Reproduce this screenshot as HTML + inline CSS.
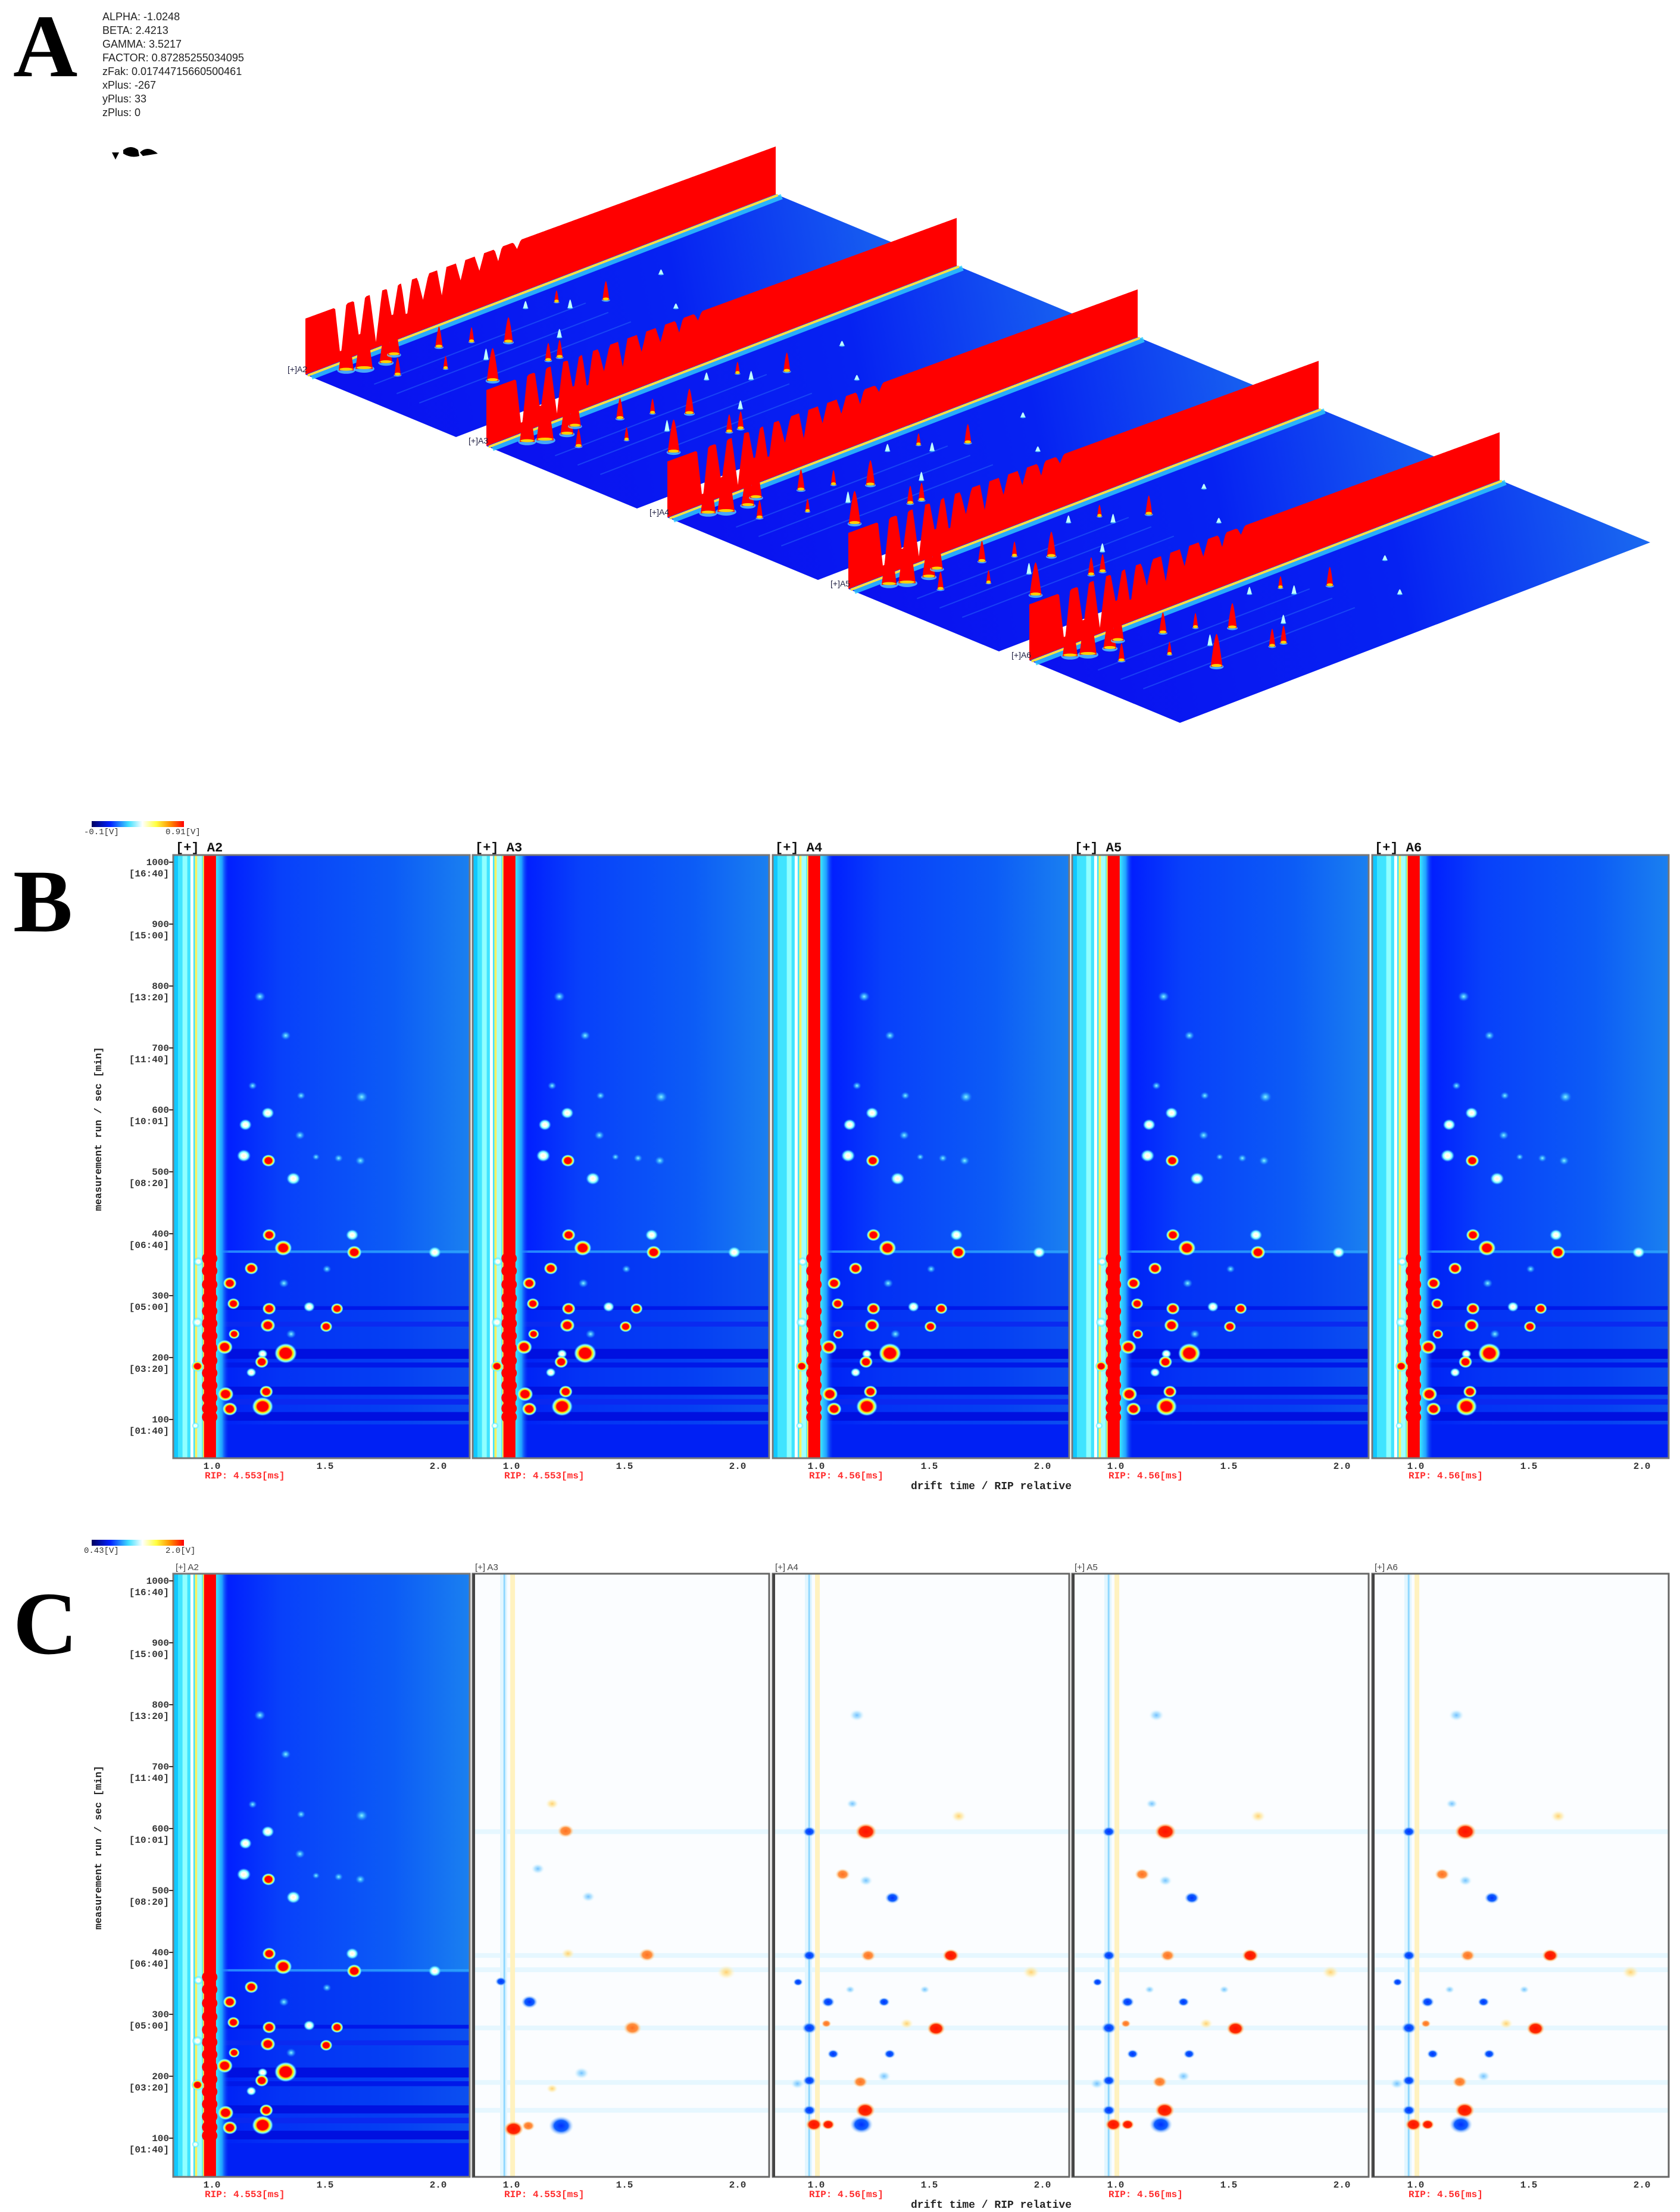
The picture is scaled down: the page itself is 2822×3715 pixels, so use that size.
<!DOCTYPE html>
<html><head><meta charset="utf-8">
<style>
html,body{margin:0;padding:0;background:#fff;}
svg{display:block;}
</style></head>
<body>
<svg id="fig" xmlns="http://www.w3.org/2000/svg" width="2822" height="3715" viewBox="0 0 2822 3715" font-family="Liberation Mono, monospace">
<defs>
 <radialGradient id="gHot"><stop offset="0" stop-color="#ff0000"/><stop offset="0.5" stop-color="#ff0000"/><stop offset="0.65" stop-color="#ffee00"/><stop offset="0.82" stop-color="#80ffff"/><stop offset="1" stop-color="#40c0ff" stop-opacity="0"/></radialGradient>
 <radialGradient id="gWhite"><stop offset="0" stop-color="#ffffd0"/><stop offset="0.35" stop-color="#ffffff"/><stop offset="0.65" stop-color="#80ffff"/><stop offset="1" stop-color="#40c0ff" stop-opacity="0"/></radialGradient>
 <radialGradient id="gCyan"><stop offset="0" stop-color="#90f8ff"/><stop offset="0.5" stop-color="#40c8ff" stop-opacity="0.6"/><stop offset="1" stop-color="#2080ff" stop-opacity="0"/></radialGradient>
 <radialGradient id="cRed"><stop offset="0" stop-color="#ff1000"/><stop offset="0.6" stop-color="#ff2a00"/><stop offset="0.8" stop-color="#ffb060" stop-opacity="0.6"/><stop offset="1" stop-color="#fff0c0" stop-opacity="0"/></radialGradient>
 <radialGradient id="cOrange"><stop offset="0" stop-color="#ff7020"/><stop offset="0.55" stop-color="#ff9040"/><stop offset="1" stop-color="#fff0c0" stop-opacity="0"/></radialGradient>
 <radialGradient id="cBlue"><stop offset="0" stop-color="#0030ff"/><stop offset="0.55" stop-color="#1060ff"/><stop offset="1" stop-color="#c0e8ff" stop-opacity="0"/></radialGradient>
 <radialGradient id="cLblue"><stop offset="0" stop-color="#70c0ff"/><stop offset="0.5" stop-color="#a0dcff" stop-opacity="0.7"/><stop offset="1" stop-color="#e0f6ff" stop-opacity="0"/></radialGradient>
 <radialGradient id="cYellow"><stop offset="0" stop-color="#ffd070"/><stop offset="0.5" stop-color="#ffe8a0" stop-opacity="0.7"/><stop offset="1" stop-color="#fff8e0" stop-opacity="0"/></radialGradient>
 <linearGradient id="cbar" x1="0" x2="1" y1="0" y2="0"><stop offset="0" stop-color="#000060"/><stop offset="0.2" stop-color="#0020ff"/><stop offset="0.4" stop-color="#40e0ff"/><stop offset="0.55" stop-color="#ffffff"/><stop offset="0.7" stop-color="#ffff40"/><stop offset="0.85" stop-color="#ff9000"/><stop offset="1" stop-color="#ff0000"/></linearGradient>
 <linearGradient id="rightFade" x1="0" x2="1" y1="0" y2="0"><stop offset="0" stop-color="#40f0ff"/><stop offset="0.5" stop-color="#20a0ff"/><stop offset="1" stop-color="#0a30f8" stop-opacity="0"/></linearGradient>
</defs>
<g id="panelA"></g>
<g id="panelB"></g>
<g id="panelC"></g>
</svg>
<script>
// ---------- data ----------
const sampleNames = ["A2","A3","A4","A5","A6"];
const ripValues = ["4.553","4.553","4.56","4.56","4.56"];
const yTicks = [1000,900,800,700,600,500,400,300,200,100];
const yTickMin = ["[16:40]","[15:00]","[13:20]","[11:40]","[10:01]","[08:20]","[06:40]","[05:00]","[03:20]","[01:40]"];
const xTicks = [1.0,1.5,2.0];
const xTickLabels = ["1.0","1.5","2.0"];
const paramLines = ["ALPHA: -1.0248","BETA: 2.4213","GAMMA: 3.5217","FACTOR: 0.87285255034095","zFak: 0.01744715660500461","xPlus: -267","yPlus: 33","zPlus: 0"];

const bD = [1.212,1.326,1.18,1.662,1.394,1.247,1.148,1.389,1.141,1.25,1.656,1.56,1.46,1.36,1.253,1.62,1.315,1.629,1.985,0.94,1.174,1.508,1.079,1.318,1.095,1.253,1.43,1.553,0.936,1.247,1.505,1.098,1.35,1.056,1.326,1.224,1.22,0.936,1.174,1.06,1.24,1.079,1.224,0.927];
const bV = [783,720,639,621,623,595,576,559,526,518,518,522,524,489,398,398,377,370,370,355,344,343,320,320,287,279,282,279,257,252,250,238,238,217,207,206,193,186,176,141,145,117,121,90];
const bK = [2,2,2,2,2,1,1,2,1,0,2,2,2,1,0,1,0,0,1,1,0,2,0,2,0,0,1,0,1,0,0,0,2,0,0,1,0,0,1,0,0,0,0,1];
const bR = [9,8,7,10,7,10,10,8,11,11,8,7,6,11,11,10,14,12,10,8,11,7,11,8,10,11,9,10,9,12,10,9,8,13,18,8,11,10,8,13,11,12,17,6];

const cD = [1.22,0.97,1.117,1.22,1.337,1.595,1.23,0.97,0.92,1.053,1.30,1.15,1.48,1.53,1.045,1.40,0.97,1.075,1.325,1.195,0.917,0.97,1.30,1.217,0.97,0.99,1.053,1.20,1.18,1.16,1.63,1.95];
const cV = [595,595,526,516,488,395,395,395,352,320,320,340,340,277,285,285,278,236,236,191,188,193,200,145,145,122,122,122,783,640,620,368];
const cK = [0,2,1,3,2,0,1,2,2,2,2,3,3,0,1,4,2,2,2,1,3,2,3,0,2,0,0,2,3,3,4,4];
const cR = [13,8,9,8,9,10,9,8,6,8,7,6,6,11,6,8,9,7,7,9,8,8,8,12,8,10,8,14,9,7,9,10];
const cDA3 = [1.24,1.18,1.117,1.34,1.6,1.95,1.08,0.954,1.535,1.31,1.01,1.22,1.075,1.18,1.25];
const cVA3 = [596,640,535,490,396,368,320,353,278,205,115,120,120,180,398];
const cKA3 = [1,4,3,3,1,4,2,2,1,3,0,2,1,4,4];
const cRA3 = [10,8,8,8,10,11,10,7,11,9,12,15,8,7,8];

const pkT = [0.056,0.08,0.12,0.15,0.19,0.22,0.27,0.31,0.305,0.326,0.47,0.47,0.53,0.586,0.10,0.17,0.24,0.38,0.42,0.66];
const pkS = [0.096,0.14,0.16,0.12,0.65,0.2,0.26,0.38,0.66,0.67,0.2,0.29,0.34,0.63,0.3,0.4,0.45,0.5,0.15,0.3];
const pkH = [70,80,60,55,55,35,25,42,30,30,20,14,32,8,30,22,18,14,12,8];
const dipT = [0.075,0.115,0.15,0.185,0.215,0.25,0.29,0.33,0.37,0.41,0.45];
const dipDepth = [0.95,0.75,0.9,0.6,0.7,0.45,0.5,0.35,0.3,0.25,0.15];
const dipWidth = [0.012,0.012,0.013,0.012,0.011,0.012,0.01,0.01,0.01,0.008,0.008];

const NS="http://www.w3.org/2000/svg";
function mk(tag,attrs,parent){const e=document.createElementNS(NS,tag);for(const k in attrs)e.setAttribute(k,attrs[k]);if(parent)parent.appendChild(e);return e;}
function txt(parent,x,y,s,attrs){const t=mk("text",Object.assign({x:x,y:y},attrs||{}),parent);t.textContent=s;return t;}
const SERIF="Liberation Serif, serif", SANS="Liberation Sans, sans-serif";

// ---------- Panel A ----------
const gA=document.getElementById("panelA");
let la=txt(gA,22,128,"A",{"font-family":SERIF,"font-weight":"bold","font-size":150});


paramLines.forEach((s,i)=>{
  const t=txt(gA,172,34+i*23,s,{"font-family":SANS,"font-size":18,"fill":"#222"});
  
  
});
const blob=mk("path",{d:"M188,256 L200,256 L194,268 Z M207,252 Q220,242 232,252 L234,262 Q220,266 207,258 Z M235,256 Q248,243 265,258 L240,262 Z",fill:"#000"},gA);



const F0=[513,629], U=[790,-303], V=[253,105], slabStep=[304,120];
for(let k=0;k<5;k++){
  const F=[F0[0]+k*slabStep[0],F0[1]+k*slabStep[1]];
  const P=(t,s)=>[F[0]+t*U[0]+s*V[0],F[1]+t*U[1]+s*V[1]];
  const g=mk("g",{},gA);
  
  
  const gid="plane"+k;
  const lg=mk("linearGradient",{id:gid,gradientUnits:"userSpaceOnUse",x1:F[0],y1:F[1],x2:P(1,1)[0],y2:P(1,1)[1]},g);
  mk("stop",{offset:0,"stop-color":"#0a10f0"},lg);mk("stop",{offset:0.6,"stop-color":"#0622f2"},lg);mk("stop",{offset:1,"stop-color":"#1a6af0"},lg);
  const c=[P(0,0),P(1,0),P(1,1),P(0,1)];
  const plane=mk("polygon",{points:c.map(p=>p.join(",")).join(" "),fill:"url(#"+gid+")"},g);
  
  
  [0.3,0.45,0.6].forEach(s=>{const a=P(0.05,s),b=P(0.5,s);mk("line",{x1:a[0],y1:a[1],x2:b[0],y2:b[1],stroke:"#40a0ff","stroke-width":2,opacity:0.3},g);});
  let a=P(0,0.04),b=P(1,0.04);
  mk("line",{x1:a[0],y1:a[1],x2:b[0],y2:b[1],stroke:"#30d0ff","stroke-width":9,opacity:0.8},g);
  a=P(0,0.015);b=P(1,0.015);
  mk("line",{x1:a[0],y1:a[1],x2:b[0],y2:b[1],stroke:"#ffe040","stroke-width":4},g);
  const pts=[];
  for(let i=0;i<=300;i++){
    const t=i/300;let h=94-14*t;let m=1;
    for(let j=0;j<dipT.length;j++){const d=Math.abs(t-dipT[j]);if(d<dipWidth[j])m=Math.min(m,1-dipDepth[j]*(1-d/dipWidth[j]));}
    const p=P(t,0);pts.push([p[0],p[1]-h*m]);
  }
  const wallPts=pts.map(p=>p.join(",")).join(" ")+" "+P(1,0).join(",")+" "+P(0,0).join(",");
  const wall=mk("polygon",{points:wallPts,fill:"#ff0000"},g);
  
  
  pkT.forEach((t,i)=>{
    const p=P(t,pkS[i]);const h=pkH[i];const w=Math.max(4,h*0.18);
    const col=h>18?"#ff0000":"#c0ffff";
    mk("ellipse",{cx:p[0],cy:p[1],rx:w*1.2,ry:w*0.45,fill:"#60e8ff",opacity:0.7},g);
    const pk=mk("path",{d:`M${p[0]-w},${p[1]} Q${p[0]-w*0.3},${p[1]-h} ${p[0]},${p[1]-h} Q${p[0]+w*0.3},${p[1]-h} ${p[0]+w},${p[1]} Z`,fill:col},g);
    
    
    if(h>18)mk("ellipse",{cx:p[0],cy:p[1]-2,rx:w*0.9,ry:2.5,fill:"#ffd000"},g);
  });
  const lb=txt(g,F[0]-30,F[1]-4,"[+]A"+(k+2),{"font-family":SANS,"font-size":14,fill:"#224"});
  
  
}

// ---------- heatmap panels ----------
const panelLefts=[291,794,1298,1801,2305], panelW=498, panelH=1013;
const panelOff=[65,65,73,73,73];
const bandV=[[283,277,"#0018e8"],[258,250,"#0a2af0"],[214,198,"#0010e0"],[192,184,"#0018e8"],[153,140,"#0012e0"],[133,124,"#0a28f0"],[112,98,"#0010e0"]];
const ripBulgeV=[360,340,318,296,275,255,235,215,195,175,155,135,118,104];

function drawBluePanel(parent,left,top,idx,uid){
  const X=d=>left+panelOff[idx]+(d-1)*380, Y=v=>top+12+(1000-v)*1.04;
  const g=mk("g",{},parent);
  
  
  const cp="clip"+uid;const cl=mk("clipPath",{id:cp},g);mk("rect",{x:left,y:top,width:panelW,height:panelH},cl);
  const inner=mk("g",{"clip-path":"url(#"+cp+")"},g);
  const bg="bg"+uid;const lg=mk("linearGradient",{id:bg,gradientUnits:"userSpaceOnUse",x1:X(1.02),y1:0,x2:left+panelW,y2:0},inner);
  mk("stop",{offset:0,"stop-color":"#0018ff"},lg);mk("stop",{offset:0.25,"stop-color":"#0840fa"},lg);mk("stop",{offset:0.7,"stop-color":"#0c5cf6"},lg);mk("stop",{offset:1,"stop-color":"#1a80f0"},lg);
  mk("rect",{x:left,y:top,width:panelW,height:panelH,fill:"url(#"+bg+")"},inner);
  mk("rect",{x:left,y:Y(368),width:panelW,height:top+panelH-Y(368),fill:"#0028f0",opacity:0.55},inner);
  bandV.forEach(b=>mk("rect",{x:left,y:Y(b[0]),width:panelW,height:Y(b[1])-Y(b[0]),fill:b[2]},inner));
  mk("rect",{x:left,y:Y(92),width:panelW,height:top+panelH-Y(92),fill:"#0020f4"},inner);
  mk("rect",{x:X(1.0),y:Y(373),width:panelW,height:4,fill:"#30a8ff",opacity:0.75},inner);
  mk("rect",{x:left,y:top,width:X(0.97)-left,height:panelH,fill:"#40e4ff"},inner);
  mk("rect",{x:left,y:top,width:8,height:panelH,fill:"#10c8ff"},inner);
  mk("rect",{x:X(0.87),y:top,width:8,height:panelH,fill:"#90ffff"},inner);
  mk("rect",{x:X(0.905),y:top,width:5,height:panelH,fill:"#ffffff"},inner);
  mk("rect",{x:X(0.925),y:top,width:4,height:panelH,fill:"#fff060"},inner);
  mk("rect",{x:X(0.935),y:top,width:8,height:panelH,fill:"#a0ffff"},inner);
  mk("rect",{x:X(1.015),y:top,width:X(1.075)-X(1.015),height:panelH,fill:"url(#rightFade)"},inner);
  mk("rect",{x:X(0.965)-2,y:top,width:2,height:panelH,fill:"#ffee40"},inner);
  const rip=mk("rect",{x:X(0.965),y:top,width:X(1.018)-X(0.965),height:panelH,fill:"#ff0000"},inner);
  
  
  ripBulgeV.forEach(v=>mk("ellipse",{cx:X(0.99),cy:Y(v),rx:13,ry:11,fill:"#ff0000"},inner));
  bD.forEach((d,i)=>{
    const k=bK[i],r=bR[i]*0.75;
    const fill=k===0?"url(#gHot)":k===1?"url(#gWhite)":"url(#gCyan)";
    const e=mk("ellipse",{cx:X(d),cy:Y(bV[i]),rx:r*1.4,ry:r*1.25,fill:fill},inner);
    
    
  });
  mk("rect",{x:left,y:top,width:panelW,height:panelH,fill:"none",stroke:"#777","stroke-width":3},g);
  return {X,Y};
}

function drawDiffPanel(parent,left,top,idx,uid,D,Vv,K,R){
  const X=d=>left+panelOff[idx]+(d-1)*380, Y=v=>top+12+(1000-v)*1.04;
  const g=mk("g",{},parent);
  
  
  const cp="clip"+uid;const cl=mk("clipPath",{id:cp},g);mk("rect",{x:left,y:top,width:panelW,height:panelH},cl);
  const inner=mk("g",{"clip-path":"url(#"+cp+")"},g);
  mk("rect",{x:left,y:top,width:panelW,height:panelH,fill:"#fbfdff"},inner);
  [595,395,372,278,190,145].forEach(v=>mk("rect",{x:left,y:Y(v)-4,width:panelW,height:8,fill:"#e6f7ff"},inner));
  mk("rect",{x:X(0.95),y:top,width:12,height:panelH,fill:"#e2f6ff"},inner);
  mk("rect",{x:X(0.965),y:top,width:3,height:panelH,fill:"#90d8ff"},inner);
  mk("rect",{x:X(0.995),y:top,width:8,height:panelH,fill:"#fff2c0"},inner);
  D.forEach((d,i)=>{
    const k=K[i],r=R[i];
    const fill=["url(#cRed)","url(#cOrange)","url(#cBlue)","url(#cLblue)","url(#cYellow)"][k];
    const e=mk("ellipse",{cx:X(d),cy:Y(Vv[i]),rx:r*1.4,ry:r*1.1,fill:fill},inner);
    
    
  });
  mk("rect",{x:left,y:top,width:panelW,height:panelH,fill:"none",stroke:"#666","stroke-width":3},g);
  mk("rect",{x:left,y:top,width:4,height:panelH,fill:"#444"},g);
  return {X,Y};
}

function drawAxes(parent,top,isB){
  const Y=v=>top+12+(1000-v)*1.04;
  yTicks.forEach((v,i)=>{
    mk("line",{x1:284,y1:Y(v),x2:291,y2:Y(v),stroke:"#333","stroke-width":2},parent);
    const t1=txt(parent,284,Y(v)+5,String(v),{"font-size":16,"font-weight":"bold","text-anchor":"end",fill:"#333"});
    
    
    const t2=txt(parent,284,Y(v)+24,yTickMin[i],{"font-size":16,"font-weight":"bold","text-anchor":"end",fill:"#333"});
    
    
  });
  const yt=txt(parent,0,0,"measurement run / sec [min]",{"font-size":17,"font-weight":"bold","text-anchor":"middle",fill:"#222",transform:`translate(170,${top+460}) rotate(-90)`});
  
  
  const xt=txt(parent,1665,top+panelH+52,"drift time / RIP relative",{"font-size":18,"font-weight":"bold","text-anchor":"middle",fill:"#222"});
  
  
  panelLefts.forEach((left,idx)=>{
    const X=d=>left+panelOff[idx]+(d-1)*380;
    xTicks.forEach((d,j)=>{
      const t=txt(parent,X(d),top+panelH+18,xTickLabels[j],{"font-size":16,"font-weight":"bold","text-anchor":"middle",fill:"#333"});
      
      
    });
    const r=txt(parent,X(1.0)-12,top+panelH+34,"RIP: "+ripValues[idx]+"[ms]",{"font-size":16,"font-weight":"bold",fill:"#ff2a2a"});
    
    
    const h=txt(parent,left+4,top-6,(isB?"[+]  ":"[+] ")+sampleNames[idx],isB?{"font-size":22,"font-weight":"bold",fill:"#111"}:{"font-size":15,"font-family":SANS,fill:"#444"});
    
    
  });
}

function drawColorbar(parent,y,lo,hi){
  const r=mk("rect",{x:154,y:y,width:155,height:10,fill:"url(#cbar)"},parent);
  
  
  const a=txt(parent,141,y+22,lo,{"font-size":14,fill:"#333"});
  
  
  const b=txt(parent,278,y+22,hi,{"font-size":14,fill:"#333"});
  
  
}

const gB=document.getElementById("panelB");
const lbB=txt(gB,22,1564,"B",{"font-family":SERIF,"font-weight":"bold","font-size":150});


drawColorbar(gB,1379,"-0.1[V]","0.91[V]");
panelLefts.forEach((l,i)=>drawBluePanel(gB,l,1436,i,"b"+i));
drawAxes(gB,1436,true);

const gC=document.getElementById("panelC");
const lbC=txt(gC,22,2777,"C",{"font-family":SERIF,"font-weight":"bold","font-size":150});


drawColorbar(gC,2586,"0.43[V]","2.0[V]");
drawBluePanel(gC,panelLefts[0],2643,0,"c0");
drawDiffPanel(gC,panelLefts[1],2643,1,"c1",cDA3,cVA3,cKA3,cRA3);
for(let i=2;i<5;i++)drawDiffPanel(gC,panelLefts[i],2643,i,"c"+i,cD,cV,cK,cR);
drawAxes(gC,2643,false);
</script>
</body></html>
